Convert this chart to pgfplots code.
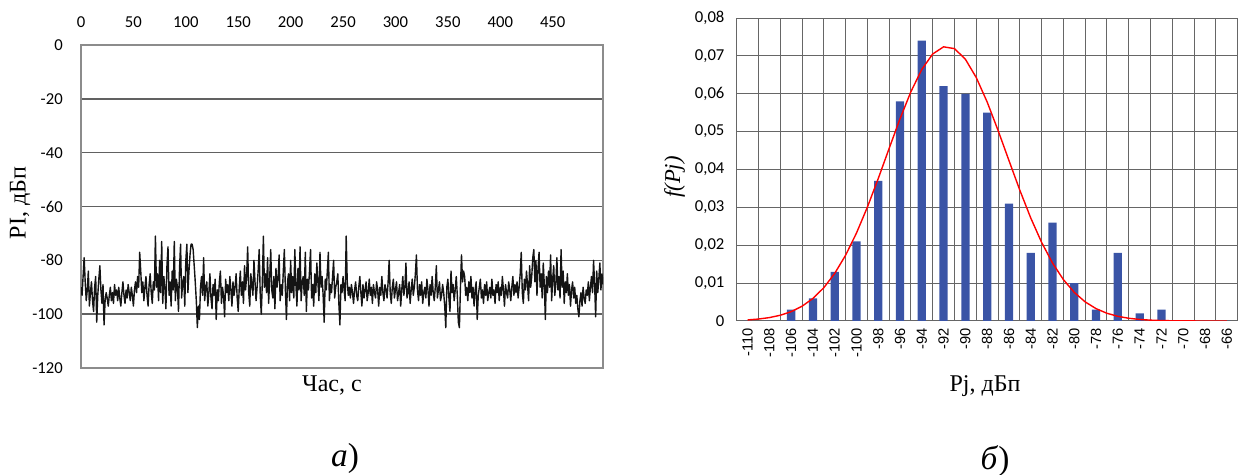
\documentclass[border=0pt]{standalone}
\usepackage{fontspec}
\setmainfont{Liberation Serif}
\newfontfamily\carlito{Carlito}
\newfontfamily\arialf{Liberation Sans}
\usepackage{pgfplots}
\usepackage{pgfplotstable}
\pgfplotsset{compat=1.18}

\definecolor{barblue}{RGB}{58,84,166}

% received level, one reading per second
\pgfplotstableread[row sep=\\, header=false]{
-90\\-93\\-86\\-79\\-88\\-95\\-91\\-84\\-97\\-92\\
-88\\-95\\-99\\-90\\-86\\-103\\-93\\-87\\-82\\-91\\
-96\\-89\\-104\\-95\\-92\\
-94\\-97\\-93\\-90\\-95\\-92\\-96\\-89\\-93\\-91\\
-95\\-90\\-94\\-97\\-92\\-88\\-93\\-96\\-91\\-94\\
-89\\-92\\-95\\-90\\-93\\-97\\-91\\-88\\-92\\-86\\
-90\\
-77\\
-84\\-92\\-88\\-95\\-90\\-86\\-93\\-97\\-89\\-85\\-92\\-96\\-88\\-91\\
-71\\
-90\\-85\\-95\\-80\\-92\\-73\\-96\\-86\\-90\\-98\\
-82\\-75\\-93\\-88\\-97\\-84\\-91\\-73\\-95\\-87\\
-90\\-99\\-83\\-74\\-94\\-88\\-86\\-97\\-80\\-74\\
-92\\-84\\
-78\\-74\\-74\\-76\\-82\\-88\\-95\\
-105\\-97\\-102\\-90\\
-86\\-93\\-79\\-95\\-90\\-88\\-97\\-92\\-85\\-94\\
-98\\-89\\-93\\-87\\-102\\-91\\-95\\-88\\-84\\-96\\
-90\\-93\\-101\\-87\\-92\\-89\\-95\\-86\\-91\\-97\\
-88\\-93\\-90\\-85\\-94\\-99\\
-90\\-84\\-93\\-88\\-96\\-82\\-91\\-86\\-75\\-92\\
-97\\-85\\-89\\-93\\-80\\-88\\-95\\-90\\-84\\-76\\
-93\\-100\\-88\\-71\\-90\\-85\\-92\\-79\\-96\\-87\\
-76\\-91\\-94\\-86\\-98\\-83\\-90\\-87\\-78\\-95\\
-89\\-93\\-84\\-76\\-91\\-102\\-88\\-85\\-95\\-80\\
-92\\-86\\-94\\-76\\-89\\-97\\-83\\-91\\-75\\-95\\
-88\\-86\\-93\\-77\\-99\\-87\\-91\\-84\\-76\\-94\\
-89\\-97\\-85\\-92\\-81\\-88\\-95\\-77\\-90\\-86\\
-93\\-103\\-87\\-91\\-84\\-77\\-95\\-89\\-92\\-86\\
-80\\-94\\-90\\-88\\-85\\-96\\-104\\-89\\-92\\-86\\
-91\\-95\\-71\\-88\\-93\\
-90\\-94\\-89\\-92\\-96\\-91\\-88\\-93\\-95\\-90\\
-86\\-92\\-97\\-89\\-94\\-91\\-88\\-95\\-92\\-87\\
-93\\-90\\-96\\-89\\-92\\-94\\-88\\-91\\-97\\-90\\
-93\\-86\\-92\\-95\\-89\\-91\\-94\\-88\\-80\\-92\\
-96\\-90\\-87\\-94\\-91\\
-88\\-95\\-92\\-89\\-97\\-91\\-86\\-93\\-90\\-81\\
-94\\-92\\-88\\-96\\-91\\-87\\-93\\-90\\-85\\-78\\
-91\\-95\\-89\\-93\\-88\\-96\\-92\\-90\\-94\\-87\\
-91\\-97\\-89\\-93\\-86\\-92\\-95\\-90\\-82\\-94\\
-91\\-88\\-95\\-93\\-89\\
-92\\-97\\-105\\-90\\-87\\-94\\-99\\-84\\-92\\-89\\
-95\\-91\\-86\\-93\\-103\\-105\\-90\\-78\\-88\\-84\\
-86\\-93\\-90\\-95\\-88\\-92\\-86\\-94\\-90\\-97\\
-91\\-88\\-102\\-93\\-90\\
-87\\-94\\-91\\-96\\-89\\-93\\-88\\-95\\-92\\-90\\
-94\\-87\\-93\\-91\\-96\\-89\\-92\\-88\\-95\\-90\\
-93\\-86\\-91\\-97\\-89\\-92\\-94\\-88\\-91\\-95\\
-90\\-86\\-93\\-89\\-92\\
-88\\-94\\-90\\-85\\-77\\-92\\-96\\-87\\-91\\-84\\
-89\\-95\\-82\\-90\\-86\\-79\\-76\\-88\\-80\\-93\\
-83\\-77\\-90\\-85\\-94\\-81\\-89\\-102\\-86\\-92\\
-84\\-90\\-78\\-95\\-87\\-82\\-93\\-89\\-79\\-91\\
-86\\-94\\-76\\-90\\-84\\-96\\-88\\-92\\-85\\-93\\
-89\\-97\\-91\\-88\\-94\\
-90\\-96\\-93\\-98\\-101\\-95\\-92\\-97\\-90\\-94\\
-96\\-91\\-93\\-88\\-95\\-90\\-86\\-92\\-80\\-89\\
-101\\-84\\-92\\-87\\-81\\-91\\-85\\-89\\
}\timeseries

\begin{document}
\begin{tikzpicture}
\path[use as bounding box] (0,0) rectangle (932.25pt,356.25pt);

% (a) level versus time
\begin{axis}[
  at={(60.75pt,80.25pt)}, anchor=south west,
  width=391.5pt, height=242.25pt, scale only axis,
  xmin=0, xmax=498, ymin=-120, ymax=0,
  xtick={0,50,...,450}, xticklabel pos=upper,
  xticklabels={0,50,100,150,200,250,300,350,400,450},
  ytick={-120,-100,-80,-60,-40,-20,0},
  yticklabels={-120,-100,-80,-60,-40,-20,0},
  ymajorgrids,
  major grid style={black!62, line width=1.1pt},
  axis line style={black!45, line width=1.1pt},
  major tick length=0pt,
  tick label style={font=\carlito\fontsize{12.5}{14}\selectfont, inner sep=0pt},
  xticklabel style={anchor=south},
  xticklabel shift=13pt,
  yticklabel style={anchor=east},
  yticklabel shift=13.5pt,
]
\addplot[black!92, line width=1.05pt, line join=round] table[x expr=\coordindex, y index=0] {\timeseries};
\end{axis}

% (b) distribution of the level
\begin{axis}[
  at={(552.5pt,115.5pt)}, anchor=south west,
  width=375.75pt, height=227.25pt, scale only axis,
  xmin=-111, xmax=-65, ymin=0, ymax=0.08,
  scaled y ticks=false,
  xtick={-110,-108,...,-66},
  xticklabels={-110,-108,-106,-104,-102,-100,-98,-96,-94,-92,-90,-88,-86,-84,-82,-80,-78,-76,-74,-72,-70,-68,-66},
  minor xtick={-109,-107,...,-67},
  ytick={0,0.01,0.02,0.03,0.04,0.05,0.06,0.07,0.08},
  yticklabels={0,{0,01},{0,02},{0,03},{0,04},{0,05},{0,06},{0,07},{0,08}},
  xminorgrids, ymajorgrids,
  major grid style={black!60, line width=0.75pt},
  minor grid style={black!60, line width=0.75pt},
  axis line style={black!60, line width=0.75pt},
  major tick length=0pt, minor tick length=0pt,
  xticklabel style={rotate=90, anchor=east, inner sep=0pt, font=\arialf\fontsize{11}{13}\selectfont},
  xticklabel shift=5pt,
  yticklabel style={anchor=east, inner sep=0pt, font=\carlito\fontsize{12.5}{14}\selectfont},
  yticklabel shift=9pt,
]
\addplot[ybar, bar width=6.2pt, fill=barblue, draw=none] coordinates {
  (-110,0) (-108,0) (-106,0.003) (-104,0.006) (-102,0.013) (-100,0.021)
  (-98,0.037) (-96,0.058) (-94,0.074) (-92,0.062) (-90,0.060) (-88,0.055)
  (-86,0.031) (-84,0.018) (-82,0.026) (-80,0.010) (-78,0.003) (-76,0.018)
  (-74,0.002) (-72,0.003) (-70,0) (-68,0) (-66,0)
};
\addplot[sharp plot, red, line width=1.05pt] coordinates {
  (-110,0.000286) (-109,0.000515) (-108,0.000898) (-107,0.001514) (-106,0.002469)
  (-105,0.003895) (-104,0.005947) (-103,0.008786) (-102,0.012554) (-101,0.017356)
  (-100,0.023218) (-99,0.030048) (-98,0.037621) (-97,0.045573) (-96,0.053409)
  (-95,0.060557) (-94,0.066430) (-93,0.070503) (-92,0.072392) (-91,0.071915)
  (-90,0.069118) (-89,0.064270) (-88,0.057817) (-87,0.050323) (-86,0.042375)
  (-85,0.034521) (-84,0.027210) (-83,0.020750) (-82,0.015310) (-81,0.010927)
  (-80,0.007547) (-79,0.005042) (-78,0.003260) (-77,0.002039) (-76,0.001233)
  (-75,0.000722) (-74,0.000409) (-73,0.000224) (-72,0.000119) (-71,0.000061)
  (-70,0.000030) (-69,0.000014) (-68,0.000006) (-67,0.000003) (-66,0.000001)
};
\end{axis}

\node[rotate=90, font=\fontsize{18}{20}\selectfont] at (15pt,204pt) {PI, дБп};
\node[font=\fontsize{18}{20}\selectfont] at (249pt,67.5pt) {Час, с};
\node[font=\fontsize{25}{28}\selectfont] at (258.75pt,12.75pt) {\textit{a})};
\node[rotate=90, font=\itshape\fontsize{17}{19}\selectfont] at (506pt,223.5pt) {f(Pj)};
\node[font=\fontsize{18}{20}\selectfont] at (738.75pt,66.75pt) {Pj, дБп};
\node[font=\fontsize{25}{28}\selectfont] at (746.25pt,10.5pt) {\textit{б})};
\end{tikzpicture}
\end{document}
